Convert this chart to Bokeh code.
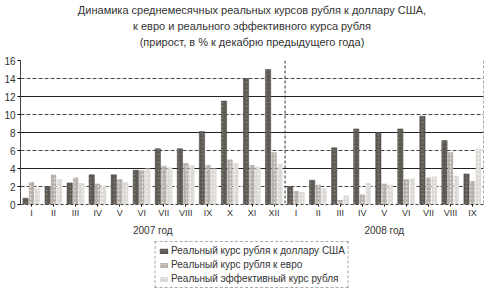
from bokeh.plotting import figure
from bokeh.layouts import column
from bokeh.models import (ColumnDataSource, FixedTicker, Grid, Span, Legend, LegendItem,
                          Title, LinearAxis)
from bokeh.embed import file_html
from bokeh.resources import INLINE

months = ["I", "II", "III", "IV", "V", "VI", "VII", "VIII", "IX", "X", "XI", "XII",
          "I", "II", "III", "IV", "V", "VI", "VII", "VIII", "IX"]
usd = [0.7, 2.0, 2.4, 3.3, 3.3, 3.8, 6.2, 6.2, 8.1, 11.5, 14.0, 15.0,
       2.0, 2.7, 6.3, 8.4, 8.0, 8.4, 9.8, 7.1, 3.4]
eur = [2.5, 3.3, 3.0, 2.3, 2.8, 3.8, 4.3, 4.6, 4.4, 5.0, 4.4, 5.8,
       1.5, 2.2, 0.5, 1.1, 2.3, 2.8, 3.0, 5.8, 2.6]
eff = [1.8, 2.8, 2.4, 2.1, 2.5, 4.0, 4.1, 4.4, 4.0, 4.6, 4.2, 4.5,
       1.4, 1.8, 1.0, 2.4, 2.2, 2.9, 3.1, 3.2, 6.2]
years = ["2007 год", "2008 год"]
year_pos = [5.5, 16.0]
series_names = ["Реальный курс рубля к доллару США",
                "Реальный курс рубля к евро",
                "Реальный эффективный курс рубля"]
title_lines = ["Динамика среднемесячных реальных курсов рубля к доллару США,",
               "к евро и реального эффективного курса рубля",
               "(прирост, в % к декабрю предыдущего года)"]

FONT = "Liberation Sans"
STYLES = [dict(fill_color="#5d5853", line_color="#4a4541", line_width=0.5,
               hatch_pattern=".", hatch_color="#9a948e", hatch_scale=4, hatch_alpha=0.6),
          dict(fill_color="#b4afaa", line_color=None,
               hatch_pattern=".", hatch_color="#e6e2de", hatch_scale=4),
          dict(fill_color="#dcd8d4", line_color=None,
               hatch_pattern=".", hatch_color="#f4f2f0", hatch_scale=4)]

idx = list(range(len(months)))
src = ColumnDataSource(dict(
    x=idx,
    x1=[i - 0.27 for i in idx], x2=idx, x3=[i + 0.27 for i in idx],
    usd=usd, eur=eur, eff=eff))

p = figure(frame_width=463, frame_height=144, output_backend="svg", toolbar_location=None,
           x_range=(-0.5, len(months) - 0.5), y_range=(0, 16),
           min_border_left=20, min_border_right=16, min_border_top=4, min_border_bottom=0)
p.background_fill_color = "white"
p.outline_line_color = None

p.add_layout(Title(text=" ", text_font_size="9px", standoff=0), "above")
for line in reversed(title_lines):
    p.add_layout(Title(text=line, align="center", text_font=FONT, text_font_size="11px",
                       text_font_style="normal", text_color="#333333", standoff=2), "above")

p.vbar(x="x1", top="usd", width=0.24, source=src, **STYLES[0])
p.vbar(x="x2", top="eur", width=0.24, source=src, **STYLES[1])
p.vbar(x="x3", top="eff", width=0.24, source=src, **STYLES[2])

# grids
p.xgrid.visible = False
p.ygrid.ticker = FixedTicker(ticks=[2, 6, 10, 14, 16])
p.ygrid.grid_line_color = "#444444"
p.ygrid.grid_line_dash = "4 2"
p.ygrid.grid_line_width = 1
g2 = Grid(dimension=1, ticker=FixedTicker(ticks=[4, 8, 12]),
          grid_line_color="#222222", grid_line_width=1.2)
p.add_layout(g2)

p.add_layout(Span(location=11.5, dimension="height", line_color="#333333",
                  line_dash="3 2", line_width=1))
p.add_layout(Span(location=len(months) - 0.5, dimension="height", line_color="#555555",
                  line_dash="3 2", line_width=1))

p.yaxis.ticker = FixedTicker(ticks=list(range(0, 17, 2)))
p.yaxis.major_label_text_font = FONT
p.yaxis.major_label_text_font_size = "10px"
p.yaxis.major_label_text_color = "#333333"
p.yaxis.major_tick_out = 3
p.yaxis.major_tick_in = 0
p.yaxis.minor_tick_out = 0
p.yaxis.minor_tick_in = 0
p.yaxis.major_label_standoff = 2
p.yaxis.axis_line_color = "#444444"

p.xaxis.ticker = FixedTicker(ticks=idx)
p.xaxis.major_label_overrides = {i: m for i, m in enumerate(months)}
p.xaxis.major_label_text_font = FONT
p.xaxis.major_label_text_font_size = "9px"
p.xaxis.major_label_text_color = "#333333"
p.xaxis.major_label_standoff = 1
p.xaxis.major_tick_out = 2
p.xaxis.major_tick_in = 0
p.xaxis.minor_tick_out = 0
p.xaxis.minor_tick_in = 0
p.xaxis.axis_line_color = "#444444"
p.xaxis.axis_line_dash = "3 2"

year_axis = LinearAxis(ticker=FixedTicker(ticks=year_pos),
                       major_label_overrides={x: t for x, t in zip(year_pos, years)},
                       axis_line_color=None, major_tick_line_color=None,
                       major_tick_out=0, major_tick_in=0, minor_tick_out=0, minor_tick_in=0,
                       minor_tick_line_color=None,
                       major_label_text_font=FONT, major_label_text_font_size="10px",
                       major_label_text_color="#333333", major_label_standoff=4)
p.add_layout(year_axis, "below")

# legend in its own strip below the chart (sample glyphs kept outside its view)
lg = figure(width=499, height=53, output_backend="svg", toolbar_location=None,
            min_border=0, x_range=(0, 1), y_range=(0, 1))
lg.axis.visible = False
lg.grid.visible = False
lg.outline_line_color = None
dummies = [lg.vbar(x=[-10], top=[-5], bottom=[-6], width=0.1, **s) for s in STYLES]
legend = Legend(items=[LegendItem(label=n, renderers=[r]) for n, r in zip(series_names, dummies)],
                location="top_center", orientation="vertical",
                label_text_font=FONT, label_text_font_size="10px", label_text_color="#333333",
                glyph_width=10, glyph_height=6, label_height=11, spacing=3,
                padding=3, margin=3, label_standoff=3,
                border_line_color="#555555", border_line_dash="2 2", border_line_width=1,
                background_fill_color="white")
lg.add_layout(legend, "center")

layout = column(p, lg, spacing=0)
open("out.html", "w").write(file_html(layout, INLINE))
